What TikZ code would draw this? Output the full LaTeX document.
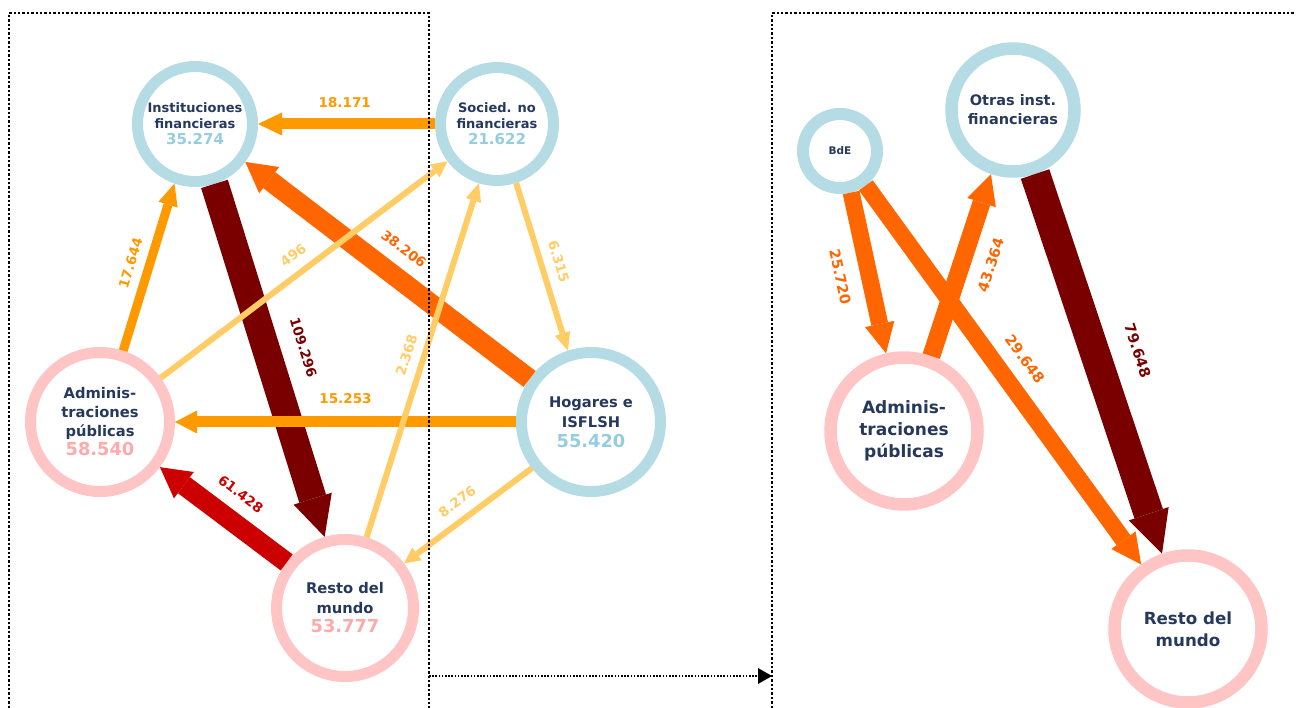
\documentclass[tikz,border=0pt]{standalone}
\usepackage{fontspec}
\setmainfont{DejaVu Sans}
\usetikzlibrary{arrows.meta}
\definecolor{ringblue}{RGB}{181,220,228}
\definecolor{ringpink}{RGB}{255,197,197}
\definecolor{numblue}{RGB}{150,205,222}
\definecolor{numpink}{RGB}{255,170,170}
\definecolor{navy}{RGB}{38,56,92}
\definecolor{orangeA}{RGB}{255,153,0}
\definecolor{orangeB}{RGB}{255,102,0}
\definecolor{orangeC}{RGB}{255,204,102}
\definecolor{redA}{RGB}{204,0,0}
\definecolor{darkred}{RGB}{122,0,0}
\begin{document}
\begin{tikzpicture}[x=1pt,y=-1pt,
    ring/.style={circle,draw=#1,line width=11pt,inner sep=0pt,align=center,text=navy},
    flow/.style n args={4}{color=#1,line width=#2,-{Triangle[width=#3,length=#4,line width=0pt]}},
    lbl/.style={sloped,inner sep=0pt,font=\bfseries\fontsize{13.5}{13.5}\selectfont},
    lblR/.style={sloped,inner sep=0pt,font=\bfseries\fontsize{14.5}{14.5}\selectfont},
    box/.style={line width=2.6pt,dash pattern=on 2.4pt off 2pt}]
    \useasboundingbox (0,0) rectangle (1296,708);

    \node[ring=ringblue,minimum size=115pt,font=\bfseries\fontsize{13}{16}\selectfont](IF) at (195,124){Instituciones\\financieras\\{\color{numblue}\fontsize{15}{16}\selectfont 35.274}};
    \node[ring=ringblue,minimum size=113pt,font=\bfseries\fontsize{13}{16}\selectfont](SNF) at (497,124){Socied. no\\financieras\\{\color{numblue}\fontsize{15}{16}\selectfont 21.622}};
    \node[ring=ringpink,minimum size=139pt,font=\bfseries\fontsize{14.7}{19}\selectfont](AP) at (100,422){Adminis-\\traciones\\públicas\\{\color{numpink}\fontsize{17.8}{20}\selectfont 58.540}};
    \node[ring=ringblue,minimum size=139pt,font=\bfseries\fontsize{14.7}{20}\selectfont](HG) at (591,422){Hogares e\\ISFLSH\\{\color{numblue}\fontsize{17.8}{20}\selectfont 55.420}};
    \node[ring=ringpink,minimum size=137pt,font=\bfseries\fontsize{14.7}{19.5}\selectfont](RM) at (345,608){Resto del\\mundo\\{\color{numpink}\fontsize{17.8}{20}\selectfont 53.777}};

    \draw[flow={darkred}{28pt}{40pt}{40pt}](IF.288) -- node[lbl,pos=0.495,above=17pt]{109.296} (RM.106);
    \draw[flow={orangeB}{20pt}{33pt}{30pt}](HG.145) -- node[lbl,pos=0.5,above=12pt]{38.206} (IF.323);
    \draw[flow={redA}{20pt}{33pt}{30pt}](RM.142) -- node[lbl,pos=0.49,above=12pt]{61.428} (AP.323);
    \draw[flow={orangeA}{11pt}{23pt}{24pt}](SNF.west) -- node[lbl,pos=0.51,above=11pt]{18.171} (IF.east);
    \draw[flow={orangeA}{11pt}{23pt}{22pt}](HG.west) -- node[lbl,pos=0.5,above=13pt]{15.253} (AP.east);
    \draw[flow={orangeA}{9pt}{20pt}{22pt}](AP.72) -- node[lbl,pos=0.49,above=9pt]{17.644} (IF.251);
    \draw[flow={orangeC}{6pt}{16pt}{16pt}](AP.36) -- node[lbl,pos=0.5,above=10pt]{496} (SNF.217);
    \draw[flow={orangeC}{6pt}{16pt}{18pt}](RM.73) -- node[lbl,pos=0.5,above=9pt]{2.368} (SNF.253);
    \draw[flow={orangeC}{6pt}{16pt}{18pt}](SNF.288) -- node[lbl,pos=0.5,above=9.5pt]{6.315} (HG.108);
    \draw[flow={orangeC}{6pt}{16pt}{16pt}](HG.218) -- node[lbl,pos=0.5,above=10pt]{8.276} (RM.37);

    \node[ring=ringblue,line width=12pt,minimum size=74pt,font=\bfseries\fontsize{10.5}{12}\selectfont](BdE) at (840,151){BdE};
    \node[ring=ringblue,line width=12.5pt,minimum size=123pt,font=\bfseries\fontsize{14.5}{19}\selectfont](OIF) at (1013,110){Otras inst.\\financieras};
    \node[ring=ringpink,line width=12.5pt,minimum size=147pt,font=\bfseries\fontsize{17}{22}\selectfont](AP2) at (904,431){Adminis-\\traciones\\públicas};
    \node[ring=ringpink,line width=12.5pt,minimum size=147pt,font=\bfseries\fontsize{16.7}{22}\selectfont](RM2) at (1188,629){Resto del\\mundo};

    \draw[flow={darkred}{30pt}{42pt}{42pt}](OIF.289) -- node[lblR,pos=0.5,above=21pt]{79.648} (RM2.109);
    \draw[flow={orangeB}{17pt}{30pt}{30pt}](BdE.285) -- node[lblR,pos=0.485,below=14.5pt]{25.720} (AP2.103);
    \draw[flow={orangeB}{18pt}{30pt}{30pt}](AP2.70) -- node[lblR,pos=0.55,below=14pt]{43.364} (OIF.251);
    \draw[flow={orangeB}{17pt}{30pt}{30pt}](BdE.307) -- node[lblR,pos=0.5,above=12.5pt]{29.648} (RM2.126);

    \coordinate (boxL) at (429,676);
    \coordinate (boxR) at (772,676);
    \draw[box](9,708) -- (9,13) -- (429,13) -- (429,708);
    \draw[box](772,708) -- (772,13) -- (1296,13);
    \draw[line width=1.6pt,dash pattern=on 1.6pt off 1.6pt,-{Triangle[width=16pt,length=14pt,line width=0pt]}](boxL) -- (boxR);
\end{tikzpicture}
\end{document}
